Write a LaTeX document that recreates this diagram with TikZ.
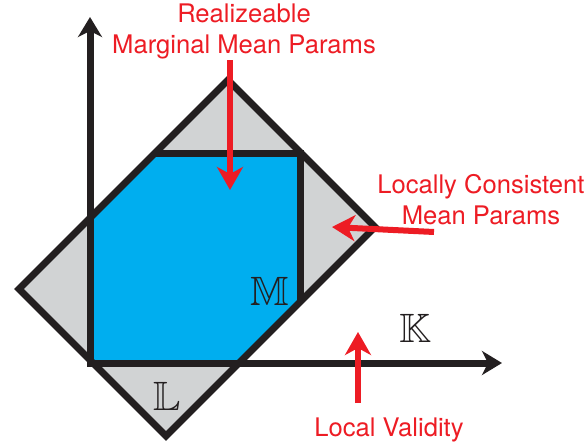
\documentclass[tikz,border=0pt]{standalone}
\usepackage{fontspec}
\setmainfont{TeX Gyre Heros}
\usepackage{amssymb}
\usetikzlibrary{arrows.meta}
\definecolor{polyblue}{HTML}{00AEEF}
\definecolor{polygray}{HTML}{D1D3D4}
\definecolor{labelred}{HTML}{ED1C24}
\definecolor{inkblack}{HTML}{231F20}
\begin{document}
\begin{tikzpicture}[x=1pt, y=-1pt,
    outline/.style={draw=inkblack, line width=7pt, line join=miter},
    axisline/.style={draw=inkblack, line width=7pt, line join=miter,
      {Stealth[length=20pt, width=24pt, inset=6pt]}-{Stealth[length=20pt, width=24pt, inset=6pt]}},
    redarrow/.style={draw=labelred, line width=6pt,
      -{Stealth[length=23pt, width=26pt, inset=7pt]}},
    redlabel/.style={text=labelred, align=center, inner sep=0pt,
      font=\fontsize{25.6}{31}\selectfont},
    setname/.style={text=inkblack, inner sep=0pt, font=\fontsize{41}{41}\selectfont}]
  \useasboundingbox (0,0) rectangle (587,447);
  % corners of the outer polytope
  \coordinate (left) at (19,289);
  \coordinate (top) at (228,80);
  \coordinate (right) at (375,227);
  \coordinate (bottom) at (166,436);
  % axes
  \coordinate (origin) at (90,363);
  \coordinate (ytip) at (90,17);
  \coordinate (xtip) at (502,363);
  \fill[polygray] (left) -- (top) -- (right) -- (bottom) -- cycle;
  \fill[polyblue] (90,218) -- (155,153) -- (300,153) -- (300,302) -- (239,363) -- (origin) -- cycle;
  \draw[outline] (155,153) -- (300,153) -- (300,302);
  \draw[outline] (left) -- (top) -- (right) -- (bottom) -- cycle;
  \draw[axisline] (ytip) -- (origin) -- (xtip);
  % set names
  \node[setname] (mset) at (270,291) {$\mathbb{M}$};
  \node[setname] (lset) at (167,396) {$\mathbb{L}$};
  \node[setname] (kset) at (415,328) {$\mathbb{K}$};
  % annotations
  \node[redlabel] (realizable) at (244,31) {Realizeable\\Marginal Mean Params};
  \node[redlabel] (consistent) at (481,200) {Locally Consistent\\Mean Params};
  \node[redlabel] (validity) at (389,430) {Local Validity};
  \coordinate (realtail) at (230,60);
  \coordinate (realhead) at (230,190);
  \coordinate (constail) at (434,232);
  \coordinate (conshead) at (332,227);
  \coordinate (validtail) at (358,403);
  \coordinate (validhead) at (358,332);
  \draw[redarrow] (realtail) -- (realhead);
  \draw[redarrow] (constail) -- (conshead);
  \draw[redarrow] (validtail) -- (validhead);
\end{tikzpicture}
\end{document}
